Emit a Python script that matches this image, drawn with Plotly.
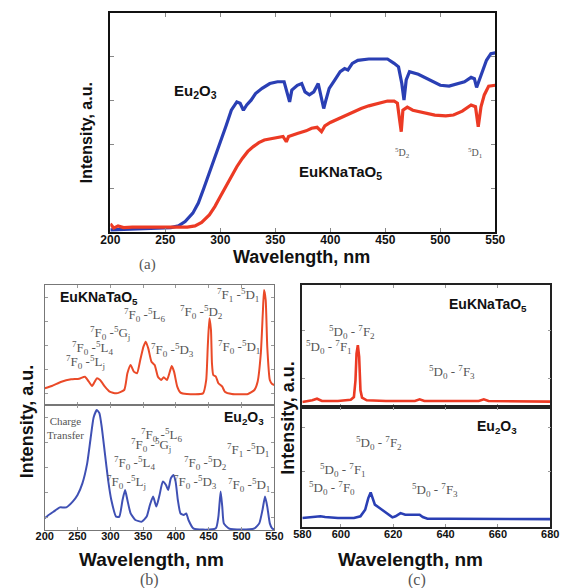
import plotly.graph_objects as go

W, H = 568, 588

# ---------------- (a) diffuse reflectance ----------------
a_wl_eu2o3 = [200, 220, 240, 255, 262, 268, 275, 280, 285, 290, 295, 300, 305, 310, 315, 318, 321, 324,
              328, 332, 338, 345, 352, 358, 361, 363, 365, 370, 374, 377, 381, 385, 389, 392, 394, 396,
              399, 404, 409, 413, 416, 420, 425, 435, 445, 452, 458, 462, 465, 467, 469, 472, 480, 490,
              500, 508, 515, 522, 528, 531, 533, 535, 538, 542, 546, 550]
a_int_eu2o3 = [0.05, 0.07, 0.08, 0.10, 0.14, 0.24, 0.43, 0.66, 1.00, 1.34, 1.72, 2.06, 2.41, 2.78, 2.97,
               2.94, 2.78, 2.90, 3.01, 3.16, 3.28, 3.39, 3.43, 3.43, 3.16, 2.97, 3.24, 3.35, 3.39, 3.20,
               3.13, 3.20, 3.39, 3.09, 2.82, 3.01, 3.28, 3.47, 3.66, 3.73, 3.70, 3.85, 3.92, 3.95, 3.96,
               3.95, 3.85, 3.77, 3.39, 3.01, 3.47, 3.66, 3.60, 3.47, 3.35, 3.33, 3.38, 3.43, 3.53, 3.50,
               3.30, 3.43, 3.62, 3.92, 4.07, 4.09]
a_wl_ekn = [200, 203, 207, 212, 220, 240, 260, 270, 277, 283, 290, 295, 300, 305, 310, 315, 320, 325,
            330, 335, 340, 350, 357, 360, 362, 370, 378, 383, 388, 392, 395, 400, 405, 410, 415, 420,
            428, 435, 445, 452, 458, 461, 463, 464.5, 466, 470, 475, 480, 488, 495, 505, 512, 520, 528,
            532, 534.5, 537, 540, 544, 550]
a_int_ekn = [0.19, 0.09, 0.14, 0.10, 0.11, 0.11, 0.11, 0.11, 0.14, 0.22, 0.39, 0.58, 0.81, 1.04, 1.27,
             1.49, 1.68, 1.84, 1.95, 2.04, 2.10, 2.15, 2.18, 2.06, 2.18, 2.25, 2.31, 2.37, 2.39, 2.29,
             2.42, 2.50, 2.56, 2.62, 2.67, 2.72, 2.82, 2.88, 2.95, 2.99, 2.99, 2.94, 2.56, 2.29, 2.78,
             2.85, 2.78, 2.75, 2.71, 2.67, 2.65, 2.67, 2.76, 2.90, 2.86, 2.40, 2.86, 3.13, 3.33, 3.35]

# ---------------- (b) excitation spectra ----------------
b_wl_ekn = [200, 210.8, 225.5, 240.2, 252.5, 261.3, 267.2, 272.1, 279.4, 284.3, 291.7, 299.0, 308.8,
            321.1, 326.0, 330.9, 335.8, 340.7, 345.6, 350.5, 353.9, 357.8, 362.7, 367.6, 372.5, 377.5,
            381.4, 386.3, 390.7, 393.6, 397.1, 402.0, 406.9, 416.7, 441.2, 446.1, 448.5, 451.0, 453.4,
            454.9, 456.9, 460.8, 464.7, 470.6, 474.5, 485.3, 509.8, 519.6, 524.5, 529.4, 532.4, 534.3,
            536.8, 539.2, 543.1, 546.6, 550]
b_int_ekn = [0.139, 0.158, 0.194, 0.214, 0.219, 0.236, 0.194, 0.158, 0.222, 0.208, 0.153, 0.111, 0.097,
             0.125, 0.264, 0.333, 0.278, 0.264, 0.375, 0.486, 0.528, 0.472, 0.361, 0.333, 0.236, 0.208,
             0.231, 0.208, 0.278, 0.325, 0.278, 0.153, 0.103, 0.092, 0.097, 0.208, 0.486, 0.722, 0.625,
             0.347, 0.250, 0.236, 0.181, 0.153, 0.111, 0.092, 0.092, 0.125, 0.194, 0.431, 0.764, 0.958,
             0.875, 0.486, 0.208, 0.175, 0.167]
b_wl_eu2o3 = [200, 205.9, 215.7, 223.0, 232.8, 242.6, 250.0, 257.4, 264.7, 269.6, 274.5, 279.4, 283.3,
              286.8, 291.7, 296.6, 301.5, 308.8, 313.7, 318.6, 322.5, 326.0, 330.9, 338.2, 348.0, 355.4,
              360.3, 365.2, 370.1, 375.0, 379.9, 384.8, 388.2, 392.2, 396.1, 399.5, 402.9, 406.9, 411.8,
              415.7, 419.1, 426.5, 441.2, 460.8, 464.7, 468.1, 470.6, 473.0, 480.4, 500.0, 519.6, 527.0,
              531.9, 535.8, 539.2, 543.1, 546.6, 550]
b_int_eu2o3 = [0.093, 0.120, 0.155, 0.181, 0.181, 0.227, 0.280, 0.373, 0.533, 0.720, 0.900, 0.960, 0.935,
               0.827, 0.613, 0.400, 0.240, 0.107, 0.107, 0.240, 0.320, 0.240, 0.133, 0.080, 0.067, 0.107,
               0.200, 0.267, 0.187, 0.280, 0.387, 0.360, 0.320, 0.413, 0.440, 0.387, 0.240, 0.133, 0.120,
               0.133, 0.080, 0.013, 0.003, 0.013, 0.107, 0.307, 0.187, 0.053, 0.013, 0.003, 0.013, 0.053,
               0.160, 0.267, 0.187, 0.053, 0.013, 0.003]

# ---------------- (c) emission spectra ----------------
c_wl_ekn = [585.3, 589.1, 590.9, 592.8, 598.9, 603.8, 605.0, 605.6, 606.0, 606.5, 607.0, 607.5, 608.1,
            609.9, 617.2, 628.3, 630.1, 631.9, 652.7, 654.6, 656.4, 680]
c_int_ekn = [0.041, 0.055, 0.068, 0.049, 0.049, 0.060, 0.082, 0.219, 0.438, 0.507, 0.411, 0.137, 0.077,
             0.055, 0.049, 0.049, 0.063, 0.049, 0.049, 0.063, 0.049, 0.044]
c_wl_eu2o3 = [585.3, 589.1, 592.2, 594.0, 598.9, 605.0, 607.5, 609.3, 610.5, 611.4, 612.1, 613.0, 614.8,
              617.2, 619.7, 620.9, 622.8, 624.6, 627.6, 630.1, 631.3, 633.1, 641.7, 680]
c_int_eu2o3 = [0.075, 0.080, 0.089, 0.083, 0.075, 0.075, 0.089, 0.144, 0.241, 0.288, 0.241, 0.186, 0.158,
               0.116, 0.080, 0.089, 0.116, 0.102, 0.102, 0.102, 0.083, 0.069, 0.069, 0.066]

a_xticks = [200, 250, 300, 350, 400, 450, 500, 550]
b_xticks = [200, 250, 300, 350, 400, 450, 500, 550]
c_xtickvals = [585.3, 600, 620, 640, 660, 680]
c_xticktext = ["580", "600", "620", "640", "660", "680"]


def px(x):
    return x / W


def py(y):
    return 1 - y / H


BLUE_A = "#2a3fb4"
RED_A = "#ec3a24"
BLUE_B = "#3f50b4"
RED_B = "#ea4a28"

fig = go.Figure()
fig.add_trace(go.Scatter(x=a_wl_eu2o3, y=a_int_eu2o3, mode="lines", line=dict(color=BLUE_A, width=3.2),
                         xaxis="x", yaxis="y", showlegend=False))
fig.add_trace(go.Scatter(x=a_wl_ekn, y=a_int_ekn, mode="lines", line=dict(color=RED_A, width=3.2),
                         xaxis="x", yaxis="y", showlegend=False))
fig.add_trace(go.Scatter(x=b_wl_ekn, y=b_int_ekn, mode="lines",
                         line=dict(color=RED_B, width=2, shape="spline", smoothing=0.5),
                         xaxis="x2", yaxis="y2", showlegend=False))
fig.add_trace(go.Scatter(x=b_wl_eu2o3, y=b_int_eu2o3, mode="lines",
                         line=dict(color=BLUE_B, width=2, shape="spline", smoothing=0.5),
                         xaxis="x3", yaxis="y3", showlegend=False))
fig.add_trace(go.Scatter(x=c_wl_ekn, y=c_int_ekn, mode="lines", line=dict(color=RED_A, width=2.6),
                         xaxis="x4", yaxis="y4", showlegend=False))
fig.add_trace(go.Scatter(x=c_wl_eu2o3, y=c_int_eu2o3, mode="lines", line=dict(color=BLUE_A, width=2.6),
                         xaxis="x5", yaxis="y5", showlegend=False))

tickfont_a = dict(family="Liberation Sans", size=12, color="#111", weight="bold")
tickfont_b = dict(family="Liberation Sans", size=11, color="#111", weight="bold")

common = dict(showgrid=False, zeroline=False, showline=True, ticks="inside", mirror="ticks")

layout = dict(
    width=W, height=H, margin=dict(l=0, r=0, t=0, b=0, pad=0),
    paper_bgcolor="white", plot_bgcolor="white", showlegend=False, hovermode=False,
    xaxis=dict(**common, domain=[px(104), px(503)], range=[200, 550], tickvals=a_xticks,
               linecolor="#111", linewidth=2, tickcolor="#888", ticklen=4, tickfont=tickfont_a,
               ticklabelstandoff=-4, anchor="y"),
    yaxis=dict(**common, domain=[py(232), py(13)], range=[0, 5], tickvals=[1, 2, 3, 4],
               showticklabels=False, linecolor="#111", linewidth=2, tickcolor="#888", ticklen=4,
               anchor="x"),
    xaxis2=dict(**common, domain=[px(36), px(274)], range=[200, 550], tickvals=b_xticks,
                showticklabels=False, linecolor="#777", linewidth=1.2, tickcolor="#999", ticklen=3,
                anchor="y2"),
    yaxis2=dict(**common, domain=[py(405), py(285)], range=[0, 1], dtick=0.2, tick0=0.1,
                showticklabels=False, linecolor="#777", linewidth=1.2, tickcolor="#999", ticklen=3,
                anchor="x2"),
    xaxis3=dict(**common, domain=[px(36), px(274)], range=[200, 550], tickvals=b_xticks,
                linecolor="#777", linewidth=1.2, tickcolor="#999", ticklen=3, tickfont=tickfont_b,
                ticklabelstandoff=-4, anchor="y3"),
    yaxis3=dict(**common, domain=[py(530), py(405)], range=[0, 1], dtick=0.2, tick0=0.1,
                showticklabels=False, linecolor="#777", linewidth=1.2, tickcolor="#999", ticklen=3,
                anchor="x3"),
    xaxis4=dict(**common, domain=[px(303), px(560)], range=[585.3, 680], tickvals=c_xtickvals,
                showticklabels=False, linecolor="#222", linewidth=1.5, tickcolor="#999", ticklen=3,
                anchor="y4"),
    yaxis4=dict(**common, domain=[py(407), py(285)], range=[0, 1], tickvals=[0.23, 0.63],
                showticklabels=False, linecolor="#222", linewidth=1.5, tickcolor="#999", ticklen=3,
                anchor="x4"),
    xaxis5=dict(**common, domain=[px(303), px(560)], range=[585.3, 680], tickvals=c_xtickvals,
                ticktext=c_xticktext, linecolor="#222", linewidth=1.5, tickcolor="#999", ticklen=3,
                tickfont=tickfont_b, ticklabelstandoff=-4, anchor="y5"),
    yaxis5=dict(**common, domain=[py(527), py(407)], range=[0, 1], tickvals=[0.46, 0.83],
                showticklabels=False, linecolor="#222", linewidth=1.5, tickcolor="#999", ticklen=3,
                anchor="x5"),
)
fig.update_layout(**layout)

SANS = "Liberation Sans"
SERIF = "Liberation Serif"
GRAY = "#555"

ann = []


def add(text, x, y, size, family=SANS, color="#111", angle=0, xanchor="center"):
    ann.append(dict(text=text, x=px(x), y=py(y), xref="paper", yref="paper", showarrow=False,
                    xanchor=xanchor, yanchor="middle", textangle=angle,
                    font=dict(family=family, size=size, color=color)))


def tr(lower_up, lower_sub, upper_up, upper_letter, upper_sub):
    return ("<sup>%s</sup>F<sub>%s</sub> -<sup>%s</sup>%s<sub>%s</sub>"
            % (lower_up, lower_sub, upper_up, upper_letter, upper_sub))


def emis(n):
    return "<sup>5</sup>D<sub>0</sub> - <sup>7</sup>F<sub>%s</sub>" % n


# (a)
add("<b>Eu<sub>2</sub>O<sub>3</sub></b>", 192, 92, 15)
add("<b>EuKNaTaO<sub>5</sub></b>", 343, 172, 15)
add("<sup>5</sup>D<sub>2</sub>", 407, 153, 10, SERIF, GRAY)
add("<sup>5</sup>D<sub>1</sub>", 483, 153, 10, SERIF, GRAY)
add("<b>Intensity, a.u.</b>", 80, 133, 16, angle=-90)
add("<b>Wavelength, nm</b>", 302, 257, 18)
add("(a)", 143, 264, 15, SERIF, GRAY)

# (b) top
add("<b>EuKNaTaO<sub>5</sub></b>", 92, 298, 14)
add(tr(7, 1, 5, "D", 1), 236, 295, 13, SERIF, GRAY)
add(tr(7, 0, 5, "D", 2), 198, 312, 13, SERIF, GRAY)
add(tr(7, 0, 5, "L", 6), 139, 315, 13, SERIF, GRAY)
add(tr(7, 0, 5, "G", "j"), 104, 333, 13, SERIF, GRAY)
add(tr(7, 0, 5, "L", 4), 86, 348, 13, SERIF, GRAY)
add(tr(7, 0, 5, "D", 3), 168, 350, 13, SERIF, GRAY)
add(tr(7, 0, 5, "D", 1), 237, 347, 13, SERIF, GRAY)
add(tr(7, 0, 5, "L", "j"), 78, 362, 13, SERIF, GRAY)

# (b) bottom
add("<b>Eu<sub>2</sub>O<sub>3</sub></b>", 243, 418, 14)
add("Charge<br>Transfer", 58, 428, 11, SERIF, GRAY)
add(tr(7, 0, 5, "L", 6), 157, 435, 13, SERIF, GRAY)
add(tr(7, 0, 5, "G", "j"), 146, 445, 13, SERIF, GRAY)
add(tr(7, 1, 5, "D", 1), 247, 450, 13, SERIF, GRAY)
add(tr(7, 0, 5, "L", 4), 129, 463, 13, SERIF, GRAY)
add(tr(7, 0, 5, "D", 2), 203, 463, 13, SERIF, GRAY)
add(tr(7, 0, 5, "L", "j"), 121, 482, 13, SERIF, GRAY)
add(tr(7, 0, 5, "D", 3), 192, 482, 13, SERIF, GRAY)
add(tr(7, 0, 5, "D", 1), 248, 485, 13, SERIF, GRAY)

add("<b>Intensity, a.u.</b>", 18, 421, 18, angle=-90)
add("<b>Wavelength, nm</b>", 147, 559, 19)
add("(b)", 145, 580, 16, SERIF, GRAY)

# (c)
add("<b>EuKNaTaO<sub>5</sub></b>", 495, 305, 14)
add(emis(2), 354, 332, 13, SERIF, GRAY)
add(emis(1), 331, 347, 13, SERIF, GRAY)
add(emis(3), 458, 372, 13, SERIF, GRAY)
add("<b>Eu<sub>2</sub>O<sub>3</sub></b>", 505, 427, 14)
add(emis(2), 382, 443, 13, SERIF, GRAY)
add(emis(1), 345, 470, 13, SERIF, GRAY)
add(emis(0), 334, 488, 13, SERIF, GRAY)
add(emis(3), 440, 490, 13, SERIF, GRAY)

add("<b>Intensity, a.u.</b>", 288, 418, 18, angle=-90)
add("<b>Wavelength, nm</b>", 415, 559, 19)
add("(c)", 422, 580, 16, SERIF, GRAY)

fig.update_layout(annotations=ann)
fig.write_html("out.html", config={"displayModeBar": False},
               post_script="document.body.style.margin='0px';document.body.style.overflow='hidden';")
